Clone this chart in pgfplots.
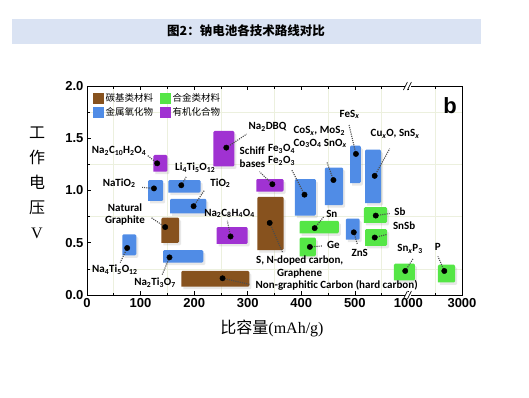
\documentclass[border=0pt]{standalone}
\usepackage{pgfplots}
\pgfplotsset{compat=1.18}
\usepackage{fontspec}
\usetikzlibrary{shadows}
\setmainfont{Liberation Sans}
\newfontfamily\cjk{Noto Sans CJK SC}
\newfontfamily\lbl{Carlito}
\newfontfamily\serif{Liberation Serif}
\definecolor{cbrown}{RGB}{135,82,30}
\definecolor{cblue}{RGB}{80,140,230}
\definecolor{cgreen}{RGB}{85,230,70}
\definecolor{cpurple}{RGB}{160,50,210}
\definecolor{band}{RGB}{218,227,243}
\definecolor{gridc}{RGB}{236,240,222}
\newcommand{\s}[1]{\textsubscript{#1}}
\newcommand{\bx}[5]{\addplot[forget plot, fill=#1, draw=none, rounded corners=1.2pt, drop shadow={opacity=0.18, shadow xshift=2pt, shadow yshift=-2.5pt}] coordinates {(#2,#4) (#3,#4) (#3,#5) (#2,#5) (#2,#4)};}
\newcommand{\ld}[4]{\addplot[forget plot, gray!60!black, line width=1.1pt, dash pattern=on 1.1pt off 1.1pt] coordinates {(#1,#2) (#3,#4)};}
\begin{document}
\begin{tikzpicture}[x=1pt,y=1pt]
\path[use as bounding box] (0,0) rectangle (529,397);
\fill[band] (12,353) rectangle (481,378);
\node[font=\cjk\bfseries\fontsize{12.5}{13}\selectfont] at (246,366) {图2：钠电池各技术路线对比};
\begin{axis}[
 at={(87pt,102pt)}, anchor=south west,
 scale only axis, width=375pt, height=209pt,
 xmin=0, xmax=7, ymin=0, ymax=2,
 xtick={0,1,2,3,4,5,6,7}, xticklabels={0,100,200,300,400,500,1000,3000},
 minor xtick={0.5,1.5,2.5,3.5,4.5,5.5,6.5},
 ytick={0,0.5,1,1.5,2}, minor ytick={0.25,0.75,1.25,1.75},
 y tick label style={/pgf/number format/.cd, fixed, fixed zerofill, precision=1, /tikz/.cd},
 /pgf/number format/assume math mode=true,
 ticklabel style={font=\fontsize{13}{13}\selectfont\bfseries},
 tick align=inside, xtick pos=both, ytick pos=left,
 major tick length=4pt, minor tick length=2.5pt,
 grid=minor, minor grid style={gridc, line width=0.6pt},
 axis line style={line width=0.8pt},
 tick style={black, line width=0.7pt},
 legend style={at={(rel axis cs:0.008,0.985)}, anchor=north west, draw=none, fill=none,
   font=\cjk\fontsize{9.5}{10}\selectfont, row sep=1pt,
   /tikz/every even column/.append style={column sep=5pt}},
 legend columns=2, legend cell align=left,
]
\addlegendimage{legend image code/.code={\fill[cbrown] (0pt,-5pt) rectangle (10pt,5pt);}}
\addlegendentry{碳基类材料}
\addlegendimage{legend image code/.code={\fill[cgreen] (0pt,-5pt) rectangle (10pt,5pt);}}
\addlegendentry{合金类材料}
\addlegendimage{legend image code/.code={\fill[cblue] (0pt,-5pt) rectangle (10pt,5pt);}}
\addlegendentry{金属氧化物}
\addlegendimage{legend image code/.code={\fill[cpurple] (0pt,-5pt) rectangle (10pt,5pt);}}
\addlegendentry{有机化合物}
% carbon
\bx{cbrown}{1.39}{1.72}{0.50}{0.74}
\bx{cbrown}{1.76}{3.03}{0.08}{0.23}
\bx{cbrown}{3.18}{3.67}{0.43}{0.94}
% oxides
\bx{cblue}{1.14}{1.42}{0.90}{1.10}
\bx{cblue}{1.52}{2.12}{0.98}{1.10}
\bx{cblue}{1.55}{2.23}{0.78}{0.92}
\bx{cblue}{0.66}{0.92}{0.38}{0.58}
\bx{cblue}{1.42}{2.17}{0.31}{0.43}
\bx{cblue}{3.88}{4.27}{0.76}{1.11}
\bx{cblue}{4.44}{4.78}{0.86}{1.22}
\bx{cblue}{4.91}{5.11}{1.07}{1.43}
\bx{cblue}{5.19}{5.49}{0.88}{1.39}
\bx{cblue}{4.83}{5.09}{0.53}{0.73}
% alloys
\bx{cgreen}{3.97}{4.70}{0.59}{0.71}
\bx{cgreen}{3.97}{4.27}{0.37}{0.55}
\bx{cgreen}{5.17}{5.60}{0.69}{0.84}
\bx{cgreen}{5.19}{5.60}{0.47}{0.63}
\bx{cgreen}{5.73}{6.12}{0.14}{0.30}
\bx{cgreen}{6.55}{6.87}{0.12}{0.29}
% organics
\bx{cpurple}{1.24}{1.50}{1.18}{1.34}
\bx{cpurple}{2.36}{2.75}{1.23}{1.57}
\bx{cpurple}{3.16}{3.67}{0.99}{1.11}
\bx{cpurple}{2.42}{3.00}{0.49}{0.65}
% leaders
\ld{1.31}{1.26}{1.12}{1.34}
\ld{1.25}{1.02}{1.03}{1.03}
\ld{1.76}{1.05}{1.85}{1.13}
\ld{1.99}{0.85}{2.19}{1.00}
\ld{1.46}{0.65}{1.20}{0.74}
\ld{0.75}{0.45}{0.62}{0.31}
\ld{1.54}{0.36}{1.40}{0.19}
\ld{2.68}{0.56}{2.62}{0.71}
\ld{2.53}{0.16}{3.05}{0.10}
\ld{3.41}{0.69}{3.65}{0.41}
\ld{3.46}{1.06}{3.22}{1.18}
\ld{2.60}{1.41}{2.98}{1.54}
\ld{4.06}{0.96}{3.82}{1.20}
\ld{4.60}{1.10}{4.48}{1.27}
\ld{5.02}{1.35}{4.89}{1.63}
\ld{5.37}{1.14}{5.65}{1.40}
\ld{4.25}{0.64}{4.42}{0.75}
\ld{4.16}{0.46}{4.40}{0.47}
\ld{4.98}{0.60}{5.05}{0.48}
\ld{5.39}{0.76}{5.65}{0.78}
\ld{5.37}{0.55}{5.60}{0.58}
\ld{5.94}{0.23}{6.09}{0.35}
\ld{6.67}{0.23}{6.55}{0.37}
% dots
\addplot[forget plot, only marks, mark=*, mark size=2.7pt, black] coordinates {
 (1.46,0.65) (2.53,0.16) (3.41,0.69)
 (1.25,1.02) (1.76,1.05) (1.99,0.85) (0.75,0.45) (1.54,0.36) (4.06,0.96) (4.60,1.10) (5.02,1.35) (5.37,1.14) (4.98,0.60)
 (4.25,0.64) (4.16,0.46) (5.39,0.76) (5.37,0.55) (5.94,0.23) (6.67,0.23)
 (1.31,1.26) (2.60,1.41) (3.46,1.06) (2.68,0.56)};
% labels
\begin{scope}[every node/.style={font=\lbl\bfseries\fontsize{11}{12.5}\selectfont, inner sep=0.5pt}]
\node at (axis cs:0.60,1.38) {Na\s{2}C\s{10}H\s{2}O\s{4}};
\node at (axis cs:0.60,1.07) {NaTiO\s{2}};
\node at (axis cs:2.02,1.22) {Li\s{4}Ti\s{5}O\s{12}};
\node at (axis cs:2.49,1.07) {TiO\s{2}};
\node[align=center] at (axis cs:0.71,0.77) {Natural\\Graphite};
\node at (axis cs:0.52,0.24) {Na\s{4}Ti\s{5}O\s{12}};
\node at (axis cs:1.27,0.12) {Na\s{2}Ti\s{3}O\s{7}};
\node at (axis cs:2.66,0.78) {Na\s{2}C\s{8}H\s{4}O\s{4}};
\node at (axis cs:4.66,0.09) {Non-graphitic Carbon (hard carbon)};
\node[align=center] at (axis cs:3.97,0.27) {S, N-doped carbon,\\Graphene};
\node[align=left] at (axis cs:3.09,1.32) {Schiff\\bases};
\node at (axis cs:3.37,1.61) {Na\s{2}DBQ};
\node[align=left, anchor=west] at (axis cs:3.37,1.34) {Fe\s{3}O\s{4}\\Fe\s{2}O\s{3}};
\node[align=left] at (axis cs:4.35,1.51) {CoS\s{\itshape x}, MoS\s{2}\\Co\s{3}O\s{4} SnO\s{\itshape x}};
\node at (axis cs:4.90,1.73) {FeS\s{\itshape x}};
\node at (axis cs:5.75,1.54) {Cu\s{\itshape x}O, SnS\s{\itshape x}};
\node at (axis cs:4.57,0.78) {Sn};
\node at (axis cs:4.60,0.48) {Ge};
\node at (axis cs:5.09,0.40) {ZnS};
\node at (axis cs:5.84,0.80) {Sb};
\node at (axis cs:5.92,0.66) {SnSb};
\node at (axis cs:6.03,0.44) {Sn\s{\itshape x}P\s{3}};
\node at (axis cs:6.55,0.46) {P};
\end{scope}
\node[font=\bfseries\fontsize{22}{22}\selectfont] at (axis cs:6.78,1.81) {b};
\end{axis}
% axis breaks
\foreach \yy in {102,311} {
 \fill[white] (405.4,\yy-3) rectangle (411.4,\yy+3);
 \draw[line width=0.7pt] (403.4,\yy-4) -- (407.4,\yy+4);
 \draw[line width=0.7pt] (407.4,\yy-4) -- (411.4,\yy+4);
}
\node[align=center, font=\fontsize{16}{25}\selectfont] at (37,214.5) {\cjk 工\\\cjk 作\\\cjk 电\\\cjk 压\\\serif V};
\node[font=\fontsize{16}{17}\selectfont] at (272,69) {\cjk 比容量\serif(mAh/g)};
\end{tikzpicture}
\end{document}
